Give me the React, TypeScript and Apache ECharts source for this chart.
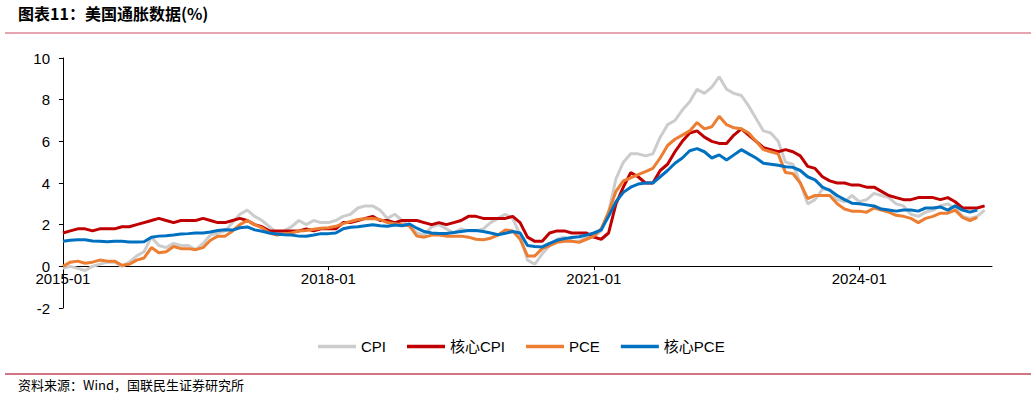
import React, { useEffect, useRef } from "react";
import * as echarts from "echarts";

// Month categories 2015-01 .. 2025-06
const startYear = 2015;
const monthCount = 126;
const months: string[] = [];
for (let i = 0; i < monthCount; i++) {
  const y = startYear + Math.floor(i / 12);
  const m = (i % 12) + 1;
  months.push(`${y}-${m < 10 ? "0" + m : m}`);
}
const labelIdx = [0, 36, 72, 108];

const seriesNames = ["CPI", "核心CPI", "PCE", "核心PCE"];
const seriesColors = ["#cccccc", "#c00000", "#ed7d31", "#0070c0"];

const cpi = [
  -0.1, 0.0, -0.1, -0.2, 0.0, 0.1, 0.2, 0.2, 0.0, 0.2, 0.5, 0.7,
  1.4, 1.0, 0.9, 1.1, 1.0, 1.0, 0.8, 1.1, 1.5, 1.6, 1.7, 2.1,
  2.5, 2.7, 2.4, 2.2, 1.9, 1.6, 1.7, 1.9, 2.2, 2.0, 2.2, 2.1,
  2.1, 2.2, 2.4, 2.5, 2.8, 2.9, 2.9, 2.7, 2.3, 2.5, 2.2, 1.9,
  1.6, 1.5, 1.9, 2.0, 1.8, 1.6, 1.8, 1.7, 1.7, 1.8, 2.1, 2.3,
  2.5, 2.3, 1.5, 0.3, 0.1, 0.6, 1.0, 1.3, 1.4, 1.2, 1.2, 1.4,
  1.4, 1.7, 2.6, 4.2, 5.0, 5.4, 5.4, 5.3, 5.4, 6.2, 6.8, 7.0,
  7.5, 7.9, 8.5, 8.3, 8.6, 9.1, 8.5, 8.3, 8.2, 7.7, 7.1, 6.5,
  6.4, 6.0, 5.0, 4.9, 4.0, 3.0, 3.2, 3.7, 3.7, 3.2, 3.1, 3.4,
  3.1, 3.2, 3.5, 3.4, 3.3, 3.0, 2.9, 2.5, 2.4, 2.6, 2.7, 2.9,
  3.0, 2.8, 2.4, 2.3, 2.4, 2.7,
];

const coreCpi = [
  1.6, 1.7, 1.8, 1.8, 1.7, 1.8, 1.8, 1.8, 1.9, 1.9, 2.0, 2.1,
  2.2, 2.3, 2.2, 2.1, 2.2, 2.2, 2.2, 2.3, 2.2, 2.1, 2.1, 2.2,
  2.3, 2.2, 2.0, 1.9, 1.7, 1.7, 1.7, 1.7, 1.7, 1.8, 1.7, 1.8,
  1.8, 1.8, 2.1, 2.1, 2.2, 2.3, 2.4, 2.2, 2.2, 2.1, 2.2, 2.2,
  2.2, 2.1, 2.0, 2.1, 2.0, 2.1, 2.2, 2.4, 2.4, 2.3, 2.3, 2.3,
  2.3, 2.4, 2.1, 1.4, 1.2, 1.2, 1.6, 1.7, 1.7, 1.6, 1.6, 1.6,
  1.4, 1.3, 1.6, 3.0, 3.8, 4.5, 4.3, 4.0, 4.0, 4.6, 4.9, 5.5,
  6.0, 6.4, 6.5, 6.2, 6.0, 5.9, 5.9, 6.3, 6.6, 6.3, 6.0, 5.7,
  5.6, 5.5, 5.6, 5.5, 5.3, 4.8, 4.7, 4.3, 4.1, 4.0, 4.0, 3.9,
  3.9, 3.8, 3.8, 3.6, 3.4, 3.3, 3.2, 3.2, 3.3, 3.3, 3.3, 3.2,
  3.3, 3.1, 2.8, 2.8, 2.8, 2.9,
];

const pce = [
  0.0, 0.2, 0.25, 0.15, 0.2, 0.3, 0.25, 0.25, 0.05, 0.1, 0.3, 0.4,
  0.9, 0.65, 0.7, 0.95, 0.85, 0.85, 0.8, 0.9, 1.25, 1.45, 1.45, 1.7,
  2.0, 2.2, 2.0, 1.85, 1.6, 1.5, 1.55, 1.6, 1.7, 1.72, 1.78, 1.83,
  1.85, 1.92, 2.05, 2.15, 2.25, 2.28, 2.3, 2.25, 2.1, 2.05, 2.0, 1.95,
  1.45, 1.4, 1.5, 1.5, 1.45, 1.45, 1.45, 1.4, 1.3, 1.28, 1.35, 1.5,
  1.75, 1.7, 1.3, 0.5, 0.5, 0.85, 1.0, 1.15, 1.2, 1.2, 1.15, 1.3,
  1.45, 1.8, 2.6, 3.6, 4.1, 4.25, 4.4, 4.55, 4.7, 5.2, 5.8, 6.1,
  6.3, 6.5, 6.9, 6.6, 6.7, 7.2, 6.8, 6.65, 6.6, 6.4, 6.0, 5.6,
  5.5, 5.4, 4.5, 4.45, 4.0, 3.25, 3.4, 3.4, 3.4, 3.0, 2.75, 2.65,
  2.65, 2.6, 2.8, 2.7, 2.6, 2.45, 2.4, 2.3, 2.1, 2.3, 2.4, 2.55,
  2.55, 2.7, 2.35, 2.2, 2.35,
];

const corePce = [
  1.2, 1.25, 1.28, 1.28, 1.22, 1.2, 1.18, 1.2, 1.2, 1.17, 1.17, 1.18,
  1.4, 1.45, 1.47, 1.5, 1.55, 1.57, 1.6, 1.6, 1.65, 1.72, 1.76, 1.74,
  1.85, 1.89, 1.75, 1.68, 1.6, 1.55, 1.52, 1.5, 1.45, 1.44, 1.5, 1.57,
  1.57, 1.6, 1.8, 1.88, 1.9, 1.95, 2.0, 1.95, 1.92, 1.98, 1.95, 2.03,
  1.83, 1.67, 1.6, 1.58, 1.58, 1.62, 1.67, 1.72, 1.72, 1.67, 1.6, 1.52,
  1.59, 1.67, 1.6, 1.0, 0.95, 0.93, 1.1, 1.25, 1.33, 1.38, 1.42, 1.5,
  1.6, 1.75, 2.4, 3.1, 3.55, 3.8, 3.95, 4.0, 4.0, 4.3, 4.6, 4.95,
  5.2, 5.55, 5.65, 5.5, 5.2, 5.35, 5.1, 5.35, 5.6, 5.4, 5.2, 4.95,
  4.9, 4.85, 4.78, 4.75, 4.6, 4.3, 4.15, 3.8, 3.65, 3.4, 3.2, 3.03,
  3.0, 2.95, 2.9, 2.75, 2.7, 2.65, 2.7, 2.7, 2.65, 2.8, 2.8, 2.85,
  2.7, 2.9, 2.7, 2.6, 2.7,
];

const yTicks = { min: -2, max: 10, interval: 2 };

const titleText = "图表11：美国通胀数据(%)";
const sourceText = "资料来源：Wind，国联民生证券研究所";

const FONT = '"Liberation Sans", Arial, "Noto Sans CJK SC", sans-serif';

// grid geometry
const GRID_TOP = 58;
const GRID_BOTTOM = 90;
const CHART_H = 398;
const plotH = CHART_H - GRID_TOP - GRID_BOTTOM;
const zeroOffset = -(plotH * (0 - yTicks.min)) / (yTicks.max - yTicks.min);

export default function App() {
  const ref = useRef<HTMLDivElement>(null);
  useEffect(() => {
    if (!ref.current) return;
    const chart = echarts.init(ref.current, null, { renderer: "svg" });
    const allSeries = [cpi, coreCpi, pce, corePce];
    chart.setOption({
      animation: false,
      backgroundColor: "#ffffff",
      textStyle: { fontFamily: FONT },
      grid: { left: 60, right: 39, top: GRID_TOP, bottom: GRID_BOTTOM, containLabel: false },
      legend: {
        left: 313,
        top: 334,
        icon: "rect",
        itemWidth: 38,
        itemHeight: 3.5,
        itemGap: 21,
        textStyle: { fontSize: 15, color: "#000", fontFamily: FONT },
        data: seriesNames,
      },
      xAxis: {
        type: "value",
        min: -0.4,
        max: 126,
        offset: zeroOffset,
        axisLine: { onZero: false, lineStyle: { color: "#000", width: 1 } },
        axisTick: {
          show: true,
          customValues: labelIdx,
          length: 4,
          lineStyle: { color: "#000" },
        },
        axisLabel: {
          customValues: labelIdx,
          formatter: (v: number) => months[Math.round(v)] ?? "",
          fontSize: 15,
          color: "#000",
          margin: 5,
          fontFamily: FONT,
        },
        splitLine: { show: false },
      },
      yAxis: {
        type: "value",
        min: yTicks.min,
        max: yTicks.max,
        interval: yTicks.interval,
        axisLine: { show: true, lineStyle: { color: "#000", width: 1 } },
        axisTick: { show: true, length: 4, lineStyle: { color: "#000" } },
        axisLabel: { fontSize: 15, color: "#000", margin: 10, fontFamily: FONT },
        splitLine: { show: false },
      },
      series: allSeries.map((arr, k) => ({
        name: seriesNames[k],
        type: "line",
        symbol: "none",
        showSymbol: false,
        data: arr.map((v, i) => [i, v]),
        lineStyle: { width: 3, color: seriesColors[k] },
        itemStyle: { color: seriesColors[k] },
        z: 2 + k,
      })),
      graphic: [
        {
          type: "text",
          left: 18,
          top: 5,
          style: {
            text: titleText,
            font: 'bold 16px "Noto Sans CJK SC", sans-serif',
            fill: "#000",
          },
        },
        {
          type: "line",
          shape: { x1: 5, y1: 33, x2: 1031, y2: 33 },
          style: { stroke: "#cc4a61", lineWidth: 1.2 },
        },
        {
          type: "line",
          shape: { x1: 5, y1: 374, x2: 1031, y2: 374 },
          style: { stroke: "#d27285", lineWidth: 2 },
        },
        {
          type: "text",
          left: 18,
          top: 378,
          style: {
            text: sourceText,
            font: '13px "Noto Sans CJK SC", sans-serif',
            fill: "#000",
          },
        },
      ],
    });
    return () => chart.dispose();
  }, []);
  return (
    <div
      ref={ref}
      style={{ position: "fixed", left: 0, top: 0, width: 1031, height: 398 }}
    />
  );
}
